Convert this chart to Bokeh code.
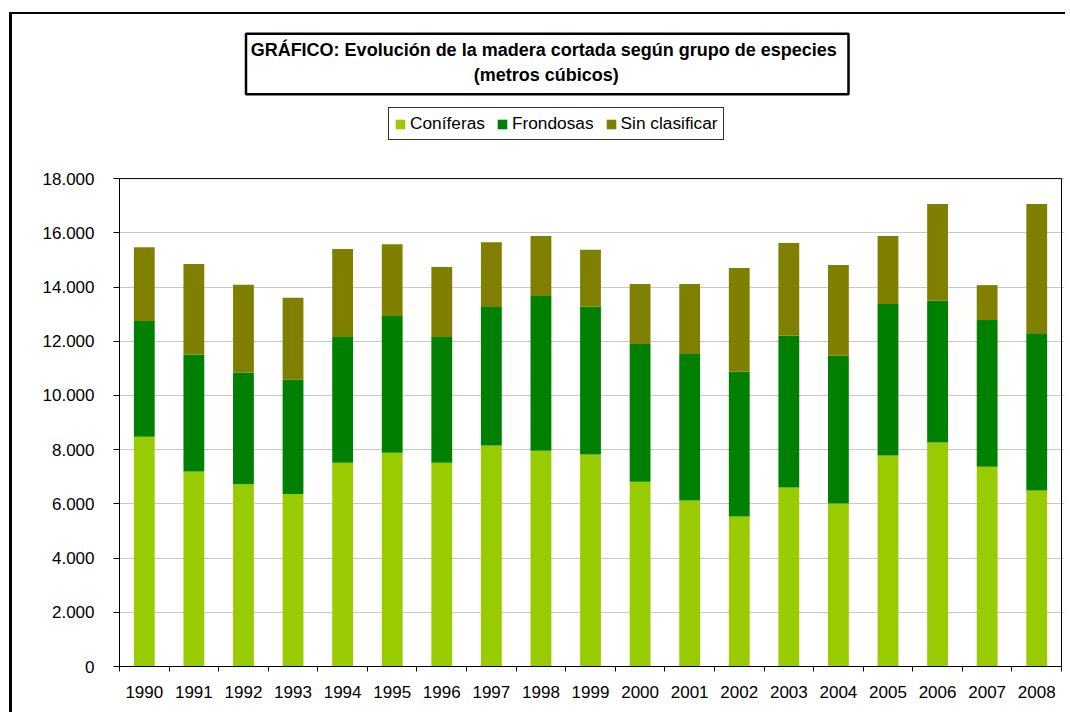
from bokeh.plotting import figure
from bokeh.models import (Range1d, FixedTicker, Label, BoxAnnotation, ColumnDataSource)
from bokeh.embed import file_html
from bokeh.resources import INLINE

# ---------------- data ----------------
years = ["1990", "1991", "1992", "1993", "1994", "1995", "1996", "1997", "1998", "1999",
         "2000", "2001", "2002", "2003", "2004", "2005", "2006", "2007", "2008"]
coniferas = [8480, 7190, 6720, 6360, 7520, 7890, 7520, 8150, 7960, 7820,
             6820, 6120, 5530, 6600, 6010, 7780, 8260, 7370, 6490]
frondosas = [4270, 4320, 4130, 4220, 4640, 5040, 4640, 5110, 5710, 5450,
             5080, 5410, 5340, 5600, 5450, 5590, 5230, 5410, 5780]
sin_clasificar = [2720, 3340, 3230, 3020, 3240, 2650, 2580, 2390, 2210, 2100,
                  2210, 2580, 3830, 3420, 3350, 2510, 3570, 1290, 4790]
series_keys = ["coniferas", "frondosas", "sin_clasificar"]
series_names = ["Coníferas", "Frondosas", "Sin clasificar"]
series_colors = ["#99CC00", "#008000", "#808000"]
y_ticks = [0, 2000, 4000, 6000, 8000, 10000, 12000, 14000, 16000, 18000]
y_tick_labels = ["0", "2.000", "4.000", "6.000", "8.000", "10.000", "12.000",
                 "14.000", "16.000", "18.000"]
title_lines = ["GRÁFICO: Evolución de la  madera cortada según grupo de especies",
               "(metros cúbicos)"]

FONT = "Liberation Sans"

# category slots: centre of slot i is i + 0.5, slot boundaries are the integers
n = len(years)
centres = [i + 0.5 for i in range(n)]
edges = [float(i) for i in range(n + 1)]

source = ColumnDataSource(dict(x=centres, coniferas=coniferas,
                               frondosas=frondosas, sin_clasificar=sin_clasificar))

# The frame is extended above the value axis so that the title box and legend
# (center annotations) are drawn inside it.
p = figure(width=1056, height=700,
           x_range=Range1d(0, n + 0.06), y_range=Range1d(0, 23500),
           output_backend="svg", toolbar_location=None,
           min_border_left=107, min_border_right=4,
           min_border_top=15, min_border_bottom=48)
p.background_fill_color = "white"
p.border_fill_color = "white"
p.outline_line_color = None
p.styles = {"margin-left": "9px", "margin-top": "12px",
            "border-left": "3px solid black", "border-top": "2px solid black"}

# plot area border
area = BoxAnnotation(left=0, right=n, bottom=0, top=y_ticks[-1],
                     fill_alpha=0, line_color="black", line_alpha=1,
                     line_width=1, level="underlay")
p.add_layout(area)

# bars
p.vbar_stack(series_keys, x="x", width=0.42, color=series_colors,
             line_color=None, source=source, legend_label=series_names)

# grid
p.xgrid.visible = False
p.ygrid.ticker = FixedTicker(ticks=y_ticks)
p.ygrid.grid_line_color = "#C8C8C8"
p.ygrid.grid_line_width = 1
p.ygrid.bounds = (0, n)

# y axis
yax = p.yaxis[0]
yax.bounds = (0, y_ticks[-1])
yax.ticker = FixedTicker(ticks=y_ticks)
yax.major_label_overrides = {t: l for t, l in zip(y_ticks, y_tick_labels)}
yax.axis_line_color = "black"
yax.major_tick_line_color = "black"
yax.major_tick_out = 6
yax.major_tick_in = 0
yax.minor_tick_line_color = None
yax.major_label_standoff = 19
yax.major_label_text_font = FONT
yax.major_label_text_font_size = "17px"
yax.major_label_text_color = "black"

# x axis: labels at category centres, tick marks between categories
xax = p.xaxis[0]
xax.bounds = (0, n)
xax.ticker = FixedTicker(ticks=centres, minor_ticks=edges)
xax.major_label_overrides = {c: y for c, y in zip(centres, years)}
xax.axis_line_color = "black"
xax.major_tick_line_color = None
xax.minor_tick_line_color = "black"
xax.minor_tick_out = 5
xax.minor_tick_in = 0
xax.major_tick_out = 5
xax.major_tick_in = 0
xax.major_label_standoff = 14
xax.major_label_text_font = FONT
xax.major_label_text_font_size = "17px"
xax.major_label_text_color = "black"

# title box (screen units relative to the frame: x from left, y from bottom)
tbox = BoxAnnotation(left=126.5, right=729, top=632.7, bottom=572.3,
                     left_units="screen", right_units="screen",
                     top_units="screen", bottom_units="screen",
                     fill_color="white", fill_alpha=1,
                     line_color="black", line_alpha=1, line_width=2.5)
p.add_layout(tbox)
for i, line in enumerate(title_lines):
    p.add_layout(Label(x=426.7, y=617 - 25 * i, x_units="screen", y_units="screen",
                       text=line, text_align="center", text_baseline="middle",
                       text_font=FONT, text_font_style="bold",
                       text_font_size="18px", text_color="black"))

# legend
leg = p.legend[0]
leg.location = (269, 526)
leg.orientation = "horizontal"
leg.border_line_color = "#333333"
leg.border_line_alpha = 1
leg.border_line_width = 1
leg.background_fill_color = "white"
leg.background_fill_alpha = 1
leg.padding = 5
leg.margin = 0
leg.spacing = 11
leg.label_standoff = 4
leg.glyph_width = 12
leg.glyph_height = 12
leg.label_height = 18
leg.label_text_font = FONT
leg.label_text_font_size = "17.3px"
leg.label_text_color = "black"

open("out.html", "w").write(file_html(p, INLINE))
